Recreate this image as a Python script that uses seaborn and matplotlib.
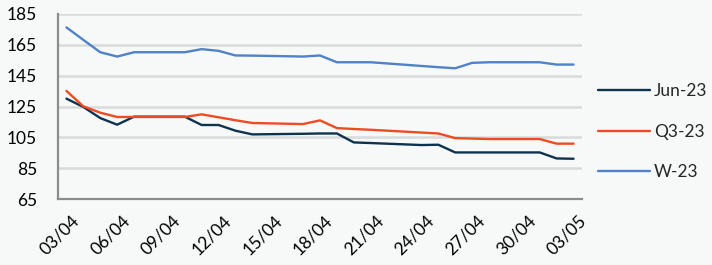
import pandas as pd
import numpy as np
import matplotlib
matplotlib.use('Agg')
import matplotlib.pyplot as plt
import matplotlib.dates as mdates
import matplotlib.transforms as mtransforms
import seaborn as sns

# business days, 03/04/2023 - 03/05/2023
dates = ['2023-04-03', '2023-04-04', '2023-04-05', '2023-04-06', '2023-04-07',
         '2023-04-10', '2023-04-11', '2023-04-12', '2023-04-13', '2023-04-14',
         '2023-04-17', '2023-04-18', '2023-04-19', '2023-04-20', '2023-04-21',
         '2023-04-24', '2023-04-25', '2023-04-26', '2023-04-27', '2023-04-28',
         '2023-05-01', '2023-05-02', '2023-05-03']
jun23 = [130.1, 124.7, 117.5, 113.2, 118.4,
         118.4, 113.0, 113.0, 109.3, 106.9,
         107.3, 107.5, 107.5, 101.7, 101.3,
         100.0, 100.2, 95.2, 95.2, 95.2,
         95.2, 91.3, 91.1]
q323 = [135.1, 125.1, 121.0, 118.2, 118.2,
        118.2, 119.9, 118.0, 116.1, 114.3,
        113.6, 116.0, 111.0, 110.4, 109.9,
        108.1, 107.5, 104.5, 104.2, 103.9,
        103.9, 100.9, 100.9]
w23 = [176.3, 168.2, 160.2, 157.4, 160.2,
       160.2, 162.2, 161.1, 158.1, 158.0,
       157.4, 158.1, 153.7, 153.7, 153.7,
       151.3, 150.5, 149.8, 153.3, 153.7,
       153.7, 152.2, 152.2]
series = ['Jun-23', 'Q3-23', 'W-23']
colors = ['#0d3350', '#ef4b21', '#4f82c8']

# points sit in the middle of each day (Excel date axis)
x = pd.to_datetime(dates) + pd.Timedelta(hours=12)
df = pd.concat([
    pd.DataFrame({'date': x, 'value': v, 'series': s})
    for s, v in zip(series, [jun23, q323, w23])
])

sns.set_style('white')
plt.rcParams['font.family'] = ['Lato', 'DejaVu Sans']
bg = '#f7f9f9'

fig = plt.figure(figsize=(7.12, 2.65), dpi=100, facecolor=bg)
ax = fig.add_axes([58 / 712, 1 - 199 / 265, (582 - 58) / 712, (199 - 14) / 265])
ax.set_facecolor(bg)

sns.lineplot(data=df, x='date', y='value', hue='series', palette=colors,
             linewidth=1.7, ax=ax, legend=True)

ax.set_xlim(pd.Timestamp('2023-04-03'), pd.Timestamp('2023-05-04'))
ax.set_ylim(65, 185)
ax.set_yticks(range(65, 186, 20))
ax.xaxis.set_major_locator(mdates.DayLocator(bymonthday=[3, 6, 9, 12, 15, 18, 21, 24, 27, 30]))
ax.xaxis.set_major_formatter(mdates.DateFormatter('%d/%m'))
ax.set_xlabel('')
ax.set_ylabel('')

ax.grid(axis='y', color='#d8dbdb', linewidth=1.8)
ax.set_axisbelow(True)
for side in ['top', 'right']:
    ax.spines[side].set_visible(False)
for side in ['left', 'bottom']:
    ax.spines[side].set_color('#8c8c8c')
    ax.spines[side].set_linewidth(1.6)
ax.tick_params(axis='both', colors='#8c8c8c', width=1.6, length=4.5,
               labelcolor='black', labelsize=12.5)
ax.tick_params(axis='y', pad=10.5)
ax.tick_params(axis='x', pad=4)

offset = mtransforms.ScaledTranslation(13 / 100, -2 / 100, fig.dpi_scale_trans)
for lab in ax.get_xticklabels():
    lab.set_rotation(45)
    lab.set_ha('right')
    lab.set_va('top')
    lab.set_rotation_mode('anchor')
    lab.set_transform(lab.get_transform() + offset)

leg = ax.legend(loc='center left', bbox_to_anchor=(1.03, 0.364), frameon=False,
                fontsize=12.5, handlelength=3.0, handletextpad=0.25,
                labelspacing=1.4, borderpad=0, borderaxespad=0)
for line in leg.get_lines():
    line.set_linewidth(1.7)

fig.savefig('out.png', dpi=100, facecolor=bg)
